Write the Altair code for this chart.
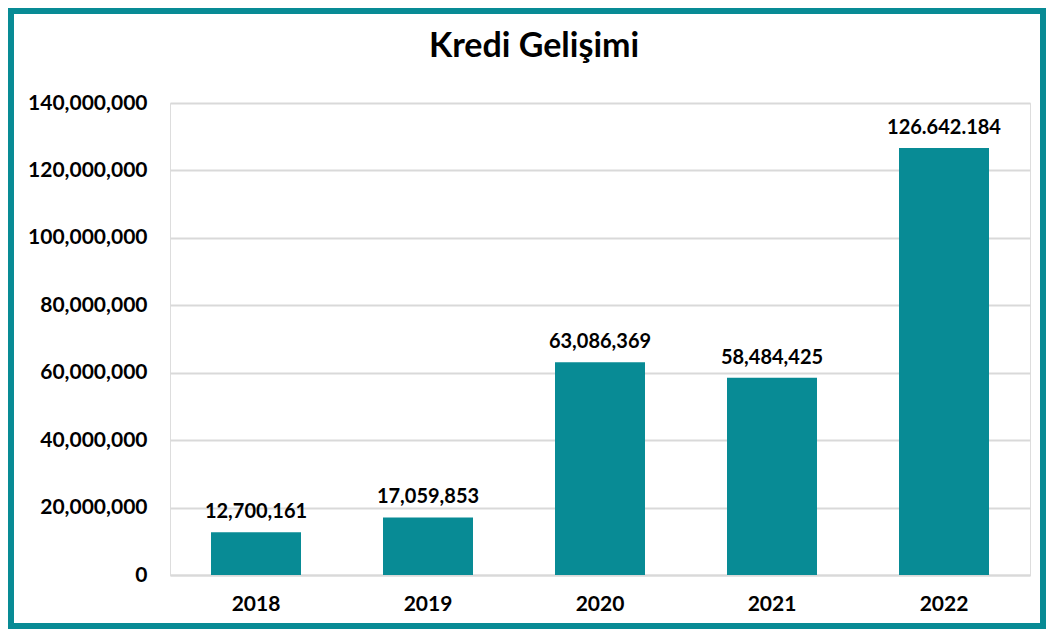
import altair as alt
import pandas as pd

years = ["2018", "2019", "2020", "2021", "2022"]
values = [12700161, 17059853, 63086369, 58484425, 126642184]
labels = ["12,700,161", "17,059,853", "63,086,369", "58,484,425", "126.642.184"]
y_ticks = [0, 20000000, 40000000, 60000000, 80000000, 100000000, 120000000, 140000000]
title_text = ["Kredi Gelişimi"]

df = pd.DataFrame({"year": years, "value": values, "label": labels})

W, H = 860, 472
PL, PT, PR, PB = 162, 95, 16, 54
FONT = "Lato"
TEAL = "#088b95"

base = alt.Chart(df)

bars = base.mark_bar(color=TEAL, width=90).encode(
    x=alt.X("year:N", sort=years, title=None,
            scale=alt.Scale(paddingInner=0.48, paddingOuter=0.24),
            axis=alt.Axis(labelAngle=0, labelFont=FONT, labelFontSize=21,
                          labelFontWeight="bold", labelColor="#000000",
                          labelPadding=18, ticks=False, domainColor="#d9d9d9",
                          domainWidth=2)),
    y=alt.Y("value:Q", title=None,
            scale=alt.Scale(domain=[0, 140000000], nice=False),
            axis=alt.Axis(values=y_ticks, format=",d", labelFont=FONT,
                          labelFontSize=21, labelFontWeight="bold",
                          labelColor="#000000", labelPadding=23, ticks=False,
                          domain=False, gridColor="#d9d9d9", gridWidth=2)),
)

text = base.mark_text(font=FONT, fontSize=20, fontWeight="bold", color="#000000",
                      baseline="bottom", dy=-10).encode(
    x=alt.X("year:N", sort=years),
    y=alt.Y("value:Q"),
    text="label:N",
)

title = alt.Chart(pd.DataFrame({"t": title_text})).mark_text(
    font=FONT, fontSize=34, fontWeight="bold", color="#000000",
    baseline="middle", align="center").encode(
    x=alt.value(W / 2 - 66), y=alt.value(-56), text="t:N")

border = alt.Chart(df).mark_rect(fill=None, stroke=TEAL, strokeWidth=6).encode(
    x=alt.value(-PL + 3), x2=alt.value(W + PR - 3),
    y=alt.value(-PT + 3), y2=alt.value(H + PB - 3),
)

chart = alt.layer(bars, text, title, border).properties(
    width=W, height=H,
    autosize=alt.AutoSizeParams(type="none"),
    padding={"left": PL, "top": PT, "right": PR, "bottom": PB},
).configure_view(stroke=None).configure(background="white")

chart.save("out.html", embed_options={"renderer": "svg", "actions": False})
